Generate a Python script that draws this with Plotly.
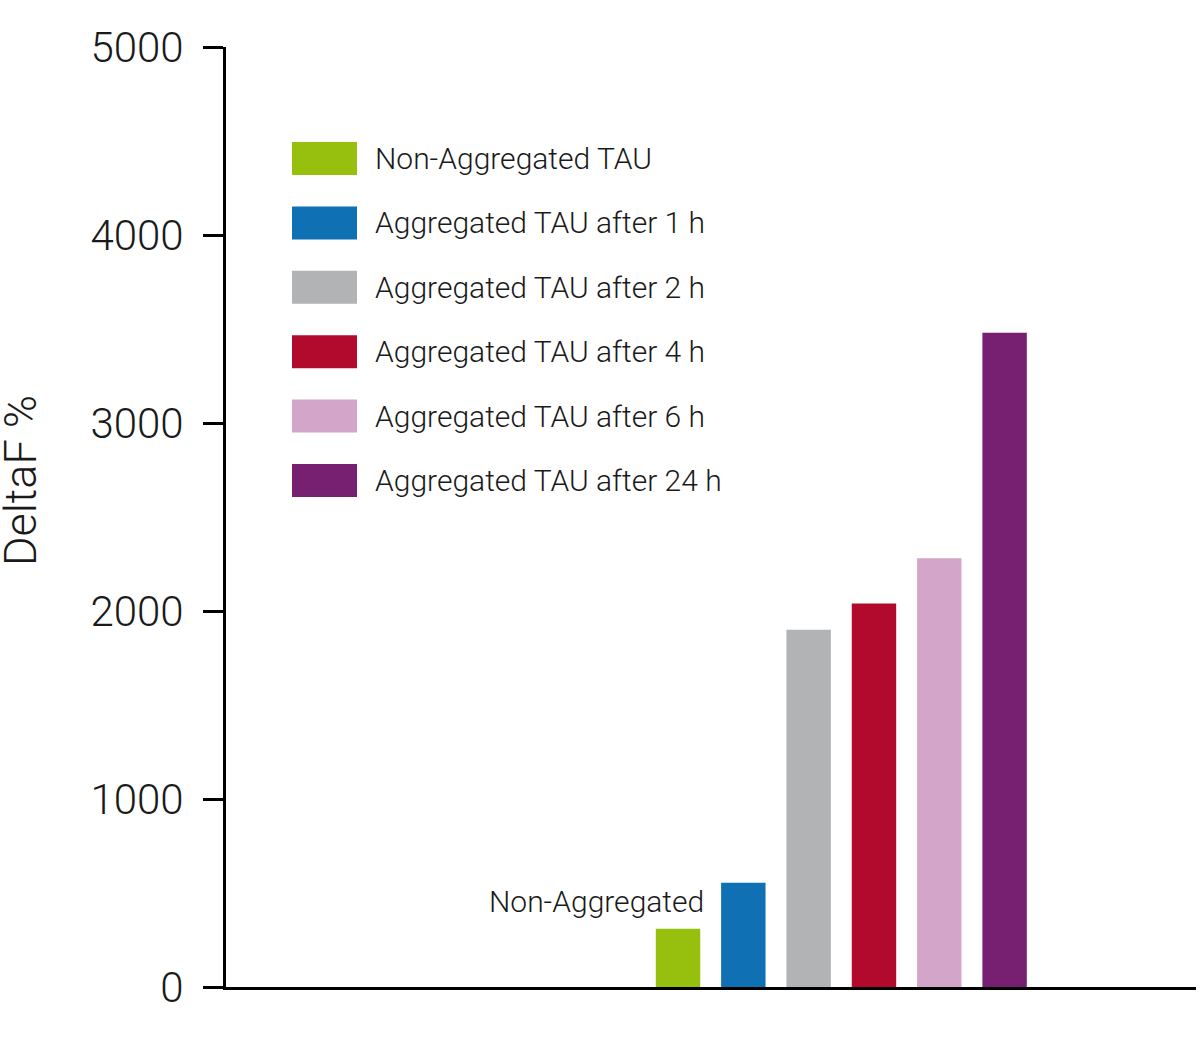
import plotly.graph_objects as go

# series shown in the chart (DeltaF % per sample)
series_names = [
    "Non-Aggregated TAU",
    "Aggregated TAU after 1 h",
    "Aggregated TAU after 2 h",
    "Aggregated TAU after 4 h",
    "Aggregated TAU after 6 h",
    "Aggregated TAU after 24 h",
]
deltaf_values = [310, 555, 1900, 2040, 2280, 3480]
bar_colors = ["#97bf0d", "#0f71b4", "#b2b3b5", "#b20a2c", "#d3a6c9", "#771f71"]
y_ticks = [0, 1000, 2000, 3000, 4000, 5000]

FONT = "Roboto"
TXT = "#1a1a1a"
W, H = 1200, 1052
L, R, T, B = 226, 4, 47, 65


def px_x(p):
    # page pixel -> paper x
    return (p - L) / (W - L - R)


def px_y(p):
    # page pixel -> paper y
    return (H - B - p) / (H - T - B)


positions = list(range(len(series_names)))

fig = go.Figure()
fig.add_trace(
    go.Bar(
        x=positions,
        y=deltaf_values,
        marker=dict(color=bar_colors, line=dict(width=0)),
        width=0.68,
        hovertext=series_names,
        showlegend=False,
    )
)

# hand-drawn legend: wide colour boxes with labels
shapes = []
annotations = []
for i, (name, col) in enumerate(zip(series_names, bar_colors)):
    top = 142 + i * 64.4
    shapes.append(
        dict(
            type="rect", xref="paper", yref="paper",
            x0=px_x(292), x1=px_x(357), y0=px_y(top + 33), y1=px_y(top),
            fillcolor=col, line=dict(width=0),
        )
    )
    annotations.append(
        dict(
            text=name, xref="paper", yref="paper",
            x=px_x(373), y=px_y(top + 16.5), xanchor="left", yanchor="middle",
            showarrow=False, font=dict(family=FONT, size=30, color=TXT, weight=300),
        )
    )

# label above the first bar
annotations.append(
    dict(
        text="Non-Aggregated", x=positions[0], y=deltaf_values[0],
        xanchor="right", yanchor="middle", xshift=28, yshift=27,
        showarrow=False, font=dict(family=FONT, size=30, color=TXT, weight=300),
    )
)

# y axis title
annotations.append(
    dict(
        text="DeltaF %", xref="paper", yref="paper",
        x=px_x(21), y=px_y(481), textangle=-90,
        xanchor="center", yanchor="middle", showarrow=False,
        font=dict(family=FONT, size=45, color=TXT, weight=300),
    )
)

fig.update_layout(
    width=W, height=H,
    margin=dict(l=L, r=R, t=T, b=B),
    plot_bgcolor="white", paper_bgcolor="white",
    shapes=shapes, annotations=annotations,
    font=dict(family=FONT),
)
fig.update_xaxes(
    range=[-6.92, 7.93], showticklabels=False, ticks="", showgrid=False,
    zeroline=False, showline=True, linecolor="black", linewidth=3,
)
fig.update_yaxes(
    range=[0, 5000], tickvals=y_ticks, ticks="outside", ticklen=20, tickwidth=3,
    tickcolor="black", showgrid=False, zeroline=False, showline=True,
    linecolor="black", linewidth=3, ticklabelstandoff=11,
    tickfont=dict(family=FONT, size=42, color=TXT, weight=300),
)

# drop the default body margin so the figure fills the window exactly
fig.write_html(
    "out.html",
    config={"displayModeBar": False},
    post_script="document.body.style.margin = '0';",
)
